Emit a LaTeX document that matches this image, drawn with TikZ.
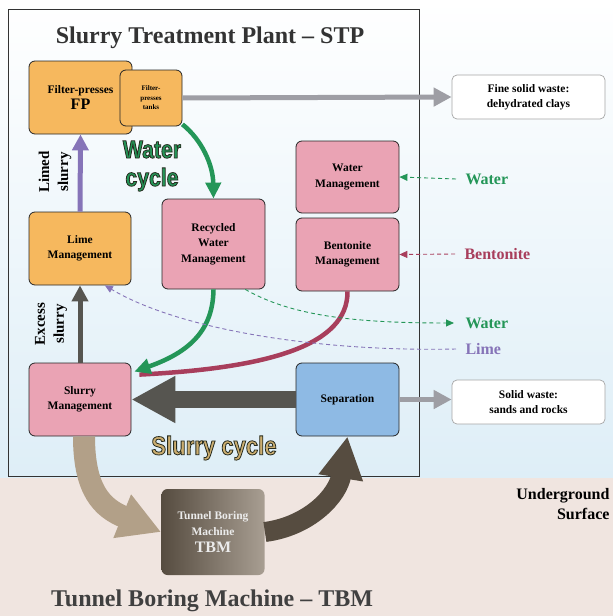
\documentclass[tikz,border=0pt]{standalone}
\usepackage{fontspec}
\setmainfont{Liberation Serif}
\newfontfamily\cyclefont[FakeStretch=0.85]{Liberation Sans}
\usetikzlibrary{arrows.meta,positioning,calc}
\definecolor{cOrange}{RGB}{246,184,94}
\definecolor{cPink}{RGB}{234,163,180}
\definecolor{cBlue}{RGB}{142,186,228}
\definecolor{cSky}{RGB}{222,238,247}
\definecolor{cGround}{RGB}{240,229,224}
\definecolor{cGreen}{RGB}{36,150,88}
\definecolor{cPurple}{RGB}{134,116,184}
\definecolor{cBent}{RGB}{168,62,92}
\definecolor{cDark}{RGB}{86,85,80}
\definecolor{cGrayA}{RGB}{158,158,164}
\definecolor{cTan}{RGB}{178,160,136}
\definecolor{cGold}{RGB}{204,174,112}
\definecolor{cBrown}{RGB}{86,76,64}
\definecolor{cBrownL}{RGB}{168,158,146}
% outlined text: fill in #1, dark stroke round the letters
\newcommand{\outlined}[2]{\textcolor{#1}{\special{pdf:literal direct 0.15 0.17 0.12 RG 2 Tr 0.8 w}#2\special{pdf:literal direct 0 Tr}}}
\tikzset{
	pbox/.style={draw=black!85, line width=0.8pt, rounded corners=6pt,
		align=center, inner sep=2pt,
		font=\bfseries\fontsize{11.5}{15.5}\selectfont},
	wbox/.style={draw=gray!70, line width=0.7pt, rounded corners=5pt,
		fill=white, align=center, minimum width=153pt, minimum height=44pt,
		font=\bfseries\fontsize{11.5}{15}\selectfont},
	inlabel/.style={font=\bfseries\fontsize{16}{18}\selectfont, anchor=west},
	sidelabel/.style={font=\bfseries\fontsize{15}{19}\selectfont,
		rotate=90, align=center},
	cyclelabel/.style={font=\cyclefont\bfseries\fontsize{25}{28}\selectfont,
		align=center},
	garr/.style={-{Triangle[length=18pt,width=18pt]}, line width=5pt,
		draw=cGrayA},
	varr/.style={-{Triangle[length=16pt,width=16pt]}, line width=5pt},
	carr/.style={-{Triangle[length=16pt,width=15pt]}, line width=4.5pt},
	darr/.style={-{Triangle[length=8pt,width=7pt]}, line width=0.9pt,
		dashed, dash pattern=on 4pt off 3pt},
	bigarr/.style={-{Triangle[length=44pt,width=44pt]}, line width=17pt},
}

\begin{document}
\begin{tikzpicture}[x=1pt,y=-1pt]
	\useasboundingbox (0,0) rectangle (613,616);
	% surface and underground
	\shade[top color=white, bottom color=cSky] (0,0) rectangle (613,478);
	\fill[cGround] (0,478) rectangle (613,616);
	\draw[line width=0.8pt, black!80] (8,9) rectangle (419,476);

	\node[font=\bfseries\fontsize{24}{26}\selectfont, text=black!80] (stp)
		at (210,38) {Slurry Treatment Plant -- STP};
	\node[font=\bfseries\fontsize{24}{28}\selectfont, text=black!75] (tbmtitle)
		at (212,601) {Tunnel Boring Machine -- TBM};

	% boxes
	\node[pbox, fill=cOrange, minimum width=103pt, minimum height=73pt] (fp)
		at (80.5,97.5) {Filter-presses\\[1pt]
		{\fontsize{16}{17}\selectfont FP}};
	\node[pbox, fill=cOrange, minimum width=62pt, minimum height=56pt,
		font=\bfseries\fontsize{7}{9.5}\selectfont] (tanks)
		at (151,98) {Filter-\\presses\\tanks};
	\node[pbox, fill=cOrange, minimum width=102pt, minimum height=73pt] (lime)
		at (80,248.5) {Lime\\Management};
	\node[pbox, fill=cPink, minimum width=102pt, minimum height=73pt] (slurry)
		at (80,399.5) {Slurry\\Management};
	\node[pbox, fill=cPink, minimum width=103pt, minimum height=90pt] (rwm)
		at (213.5,244) {Recycled\\Water\\Management};
	\node[pbox, fill=cPink, minimum width=103pt, minimum height=72pt] (wm)
		at (347.5,177) {Water\\Management};
	\node[pbox, fill=cPink, minimum width=103pt, minimum height=73pt] (bm)
		at (347.5,254.5) {Bentonite\\Management};
	\node[pbox, fill=cBlue, minimum width=103pt, minimum height=73pt] (sep)
		at (347.5,399.5) {\raisebox{-7pt}{Separation}};
	\node[pbox, draw=none, left color=cBrown, right color=cBrownL,
		minimum width=103pt, minimum height=86pt, text=white!92!black,
		font=\bfseries\fontsize{11.5}{16}\selectfont] (tbm)
		at (213,532) {Tunnel Boring\\Machine\\[1pt]{\fontsize{16}{17}\selectfont TBM}};
	\node[wbox] (fine) at (528.5,97) {Fine solid waste:\\dehydrated clays};
	\node[wbox] (solid) at (528.5,402) {Solid waste:\\sands and rocks};

	% inputs and outputs
	\node[inlabel, text=cGreen] (win) at (462,179) {Water};
	\node[inlabel, text=cBent] (bin) at (461,254) {Bentonite};
	\node[inlabel, text=cGreen] (wout) at (462,323) {Water};
	\node[inlabel, text=cPurple] (lout) at (462,349) {Lime};
	\node[font=\bfseries\fontsize{16}{20}\selectfont, align=right, anchor=east]
		(ground) at (613,504) {Underground\\Surface};

	% cycle labels
	\node[cyclelabel] (wcyc) at (152,166)
		{\outlined{cGreen}{Water}\\\outlined{cGreen}{cycle}};
	\node[cyclelabel, font=\cyclefont\bfseries\fontsize{26}{28}\selectfont]
		(scyc) at (214,448) {\outlined{cGold}{Slurry cycle}};
	\node[sidelabel] (limed) at (55,172) {Limed\\slurry};
	\node[sidelabel] (excess) at (51,324) {Excess\\slurry};

	% connectors
	\draw[garr] (tanks.east) -- (fine.west);
	\draw[garr] (sep.east) -- (sep.east -| solid.west);
	\draw[varr, draw=cPurple] (lime.north) -- (fp.south);
	\draw[varr, draw=cDark] (slurry.north) -- (lime.south);
	\draw[bigarr, draw=cDark] (sep.west |- slurry.east) -- (slurry.east);
	\draw[carr, draw=cGreen] (tanks.-40) .. controls (202,140) and (213,165)
		.. (rwm.north);
	\draw[line width=4.5pt, draw=cBent] (bm.south) .. controls (348,345)
		and (270,368) .. ($(slurry.north east)+(8,12)$);
	\draw[carr, draw=cGreen] (rwm.south) .. controls (213,330) and (190,352)
		.. ($(slurry.north east)+(3,9)$);
	\draw[darr, draw=cGreen] (rwm.-55) .. controls (290,315) and (350,323)
		.. ($(wout.west)+(-8,0)$);
	\draw[darr, draw=cPurple] ($(lout.west)+(-6,0)$) .. controls (320,352)
		and (180,330) .. (lime.-56);
	\draw[darr, draw=cGreen] ($(win.west)+(-6,0)$) -- (wm.east);
	\draw[darr, draw=cBent] ($(bin.west)+(-6,0)$) -- (bm.east);
	\draw[-{Triangle[length=42pt,width=44pt]}, line width=22pt, draw=cTan]
		($(slurry.south)+(4,0)$) .. controls (84,490) and (102,508)
		.. (tbm.west);
	\draw[-{Triangle[length=42pt,width=42pt]}, line width=20pt, draw=cBrown]
		(tbm.east) .. controls (310,526) and (338,495) .. (sep.south);
\end{tikzpicture}
\end{document}
